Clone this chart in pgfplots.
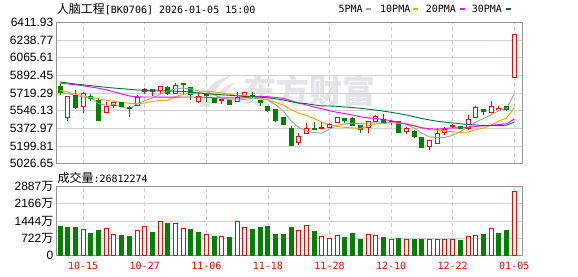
\documentclass[border=0pt]{standalone}
\usepackage{fontspec}
\setmainfont{Liberation Sans}
\newfontfamily\cjk{Noto Sans CJK SC}
\newfontfamily\mono{DejaVu Sans Mono}
\usepackage{graphicx}
\usepackage{pgfplots}
\pgfplotsset{compat=1.18}
\usepackage{pgfplotstable}

\definecolor{upred}{RGB}{255,0,0}
\definecolor{dngreen}{RGB}{0,128,0}
\definecolor{maA}{RGB}{160,160,160}
\definecolor{maB}{RGB}{245,166,0}
\definecolor{maC}{RGB}{255,0,255}
\definecolor{maD}{RGB}{0,112,60}
\definecolor{gridc}{RGB}{208,208,208}
\definecolor{framec}{RGB}{150,150,150}
\definecolor{wmark}{RGB}{228,228,232}

% up candles (close > open): index open high low close
\pgfplotstableread{
i O H L C
1 5478 5688 5446 5682
3 5591 5731 5523 5714
6 5527 5633 5520 5585
7 5601 5630 5569 5624
10 5601 5698 5595 5679
11 5737 5772 5708 5756
12 5732 5757 5694 5751
13 5745 5788 5710 5785
15 5716 5822 5713 5796
18 5636 5716 5620 5684
21 5648 5661 5610 5652
23 5639 5726 5636 5678
24 5682 5731 5673 5721
31 5231 5328 5209 5296
32 5322 5425 5318 5376
34 5370 5431 5365 5380
35 5385 5425 5375 5411
36 5431 5484 5421 5479
40 5383 5444 5331 5437
41 5437 5501 5434 5492
43 5436 5450 5405 5443
45 5341 5391 5318 5373
48 5200 5260 5158 5257
49 5229 5375 5226 5318
50 5334 5391 5312 5366
51 5394 5413 5375 5400
53 5375 5503 5359 5461
54 5477 5589 5474 5579
56 5525 5637 5522 5589
57 5564 5592 5541 5570
59 5875 6302 5872 6290
}\upcandles

% down candles (close <= open)
\pgfplotstableread{
i O H L C
0 5780 5810 5698 5722
2 5698 5753 5562 5578
4 5688 5714 5640 5666
5 5650 5666 5446 5446
8 5624 5633 5585 5591
9 5578 5591 5488 5570
14 5774 5790 5700 5710
16 5808 5815 5710 5800
17 5774 5780 5655 5703
19 5703 5716 5636 5697
20 5661 5668 5617 5623
22 5646 5650 5597 5607
25 5690 5731 5673 5684
26 5650 5652 5595 5624
27 5586 5590 5531 5544
28 5553 5563 5434 5447
29 5479 5489 5408 5415
30 5367 5399 5200 5206
33 5370 5431 5360 5367
37 5469 5472 5427 5447
38 5469 5487 5396 5399
39 5397 5405 5325 5363
42 5455 5510 5428 5431
44 5440 5444 5331 5334
46 5347 5357 5276 5292
47 5279 5285 5177 5184
52 5391 5394 5366 5369
55 5557 5567 5503 5535
58 5583 5586 5541 5560
}\downcandles

% moving averages
\pgfplotstableread{
i a b c d
0 5722 5746 5815 5827
1 5712 5728 5808 5817
2 5697 5708 5800 5807
3 5680 5690 5790 5799
4 5672.4 5677 5778 5791
5 5617.2 5660 5766 5783
6 5597.8 5648 5750 5775
7 5607.0 5638 5730 5768
8 5582.4 5628 5710 5762
9 5563.2 5617.8 5690 5755
10 5609.8 5613.5 5682 5749
11 5644.0 5620.9 5680 5745
12 5669.4 5638.2 5680 5742
13 5707.8 5645.1 5679 5740
14 5735.8 5649.5 5679 5739
15 5759.2 5684.5 5679 5737
16 5768.0 5706.0 5680 5734
17 5758.4 5713.9 5680 5728
18 5738.6 5723.2 5679 5719
19 5736.0 5735.9 5676.9 5713
20 5701.4 5730.3 5671.9 5707
21 5671.8 5719.9 5670.4 5702
22 5652.6 5705.5 5671.9 5697
23 5651.4 5695.0 5670.1 5691
24 5656.2 5696.1 5672.8 5686
25 5668.4 5684.9 5684.7 5683
26 5662.8 5667.3 5686.7 5679
27 5650.2 5651.4 5682.7 5672
28 5604.0 5627.7 5675.5 5662
29 5542.8 5599.5 5667.7 5651.1
30 5447.2 5557.8 5644.1 5633.9
31 5381.6 5522.2 5621.1 5621.0
32 5348.0 5499.1 5602.3 5614.3
33 5332.0 5468.0 5581.5 5602.7
34 5325.0 5433.9 5565.0 5593.2
35 5366.0 5406.6 5545.8 5592.0
36 5402.6 5392.1 5529.7 5588.5
37 5416.8 5382.4 5516.9 5582.6
38 5423.2 5377.6 5502.7 5576.2
39 5419.8 5372.4 5486.0 5569.3
40 5425.0 5395.5 5476.7 5561.2
41 5427.6 5415.1 5468.7 5552.4
42 5424.4 5420.6 5459.9 5541.7
43 5433.2 5428.2 5448.1 5530.4
44 5427.4 5423.6 5428.8 5517.9
45 5414.6 5419.8 5413.2 5503.8
46 5374.6 5401.1 5396.6 5486.8
47 5325.2 5374.8 5378.6 5469.5
48 5288.0 5360.6 5369.1 5455.3
49 5284.8 5356.1 5364.3 5442.7
50 5283.4 5349.0 5372.3 5434.1
51 5305.0 5339.8 5377.5 5425.7
52 5342.0 5333.6 5377.1 5417.8
53 5382.8 5335.4 5381.8 5410.5
54 5435.0 5359.9 5391.8 5405.8
55 5468.8 5376.1 5398.0 5400.8
56 5506.6 5405.8 5403.5 5399.7
57 5546.8 5444.4 5409.6 5400.5
58 5566.6 5474.7 5417.7 5404.3
59 5708.8 5571.9 5464.0 5433.5
}\mas

% volume (10k shares), by change of close
\pgfplotstableread{
i V
3 1093
6 1135
7 883
10 1023
11 1205
13 1429
15 1345
16 1135
19 883
21 799
23 1429
24 1177
31 1023
32 1261
34 799
35 687
36 841
40 883
41 841
43 673
45 673
48 673
49 673
50 673
51 645
53 799
54 827
56 1135
59 2681
}\upvol
\pgfplotstableread{
i V
0 1233
1 1149
2 1191
4 897
5 1023
8 813
9 771
12 939
14 1359
17 1065
18 939
20 771
22 729
25 1065
26 1191
27 1233
28 855
29 855
30 1191
33 981
37 729
38 897
39 645
42 729
44 715
46 645
47 645
52 602
55 883
57 925
58 1023
}\downvol

\pgfplotsset{
  kbase/.style={
    scale only axis, width=466.5pt,
    xmin=-0.53, xmax=60.07,
    axis line style={framec, line width=0.8pt},
    xtick={3,11,19,27,35,43,51,59},
    xmajorgrids, ymajorgrids,
    major x grid style={gridc, line width=0.8pt, dash pattern=on 4pt off 3pt},
    major y grid style={gridc, line width=0.8pt},
    major tick length=0pt,
    yticklabel style={font=\fontsize{12}{12}\selectfont, inner sep=0pt, xshift=-2.5pt},
  },
}

\begin{document}
\begin{tikzpicture}
\useasboundingbox (0pt,0pt) rectangle (578pt,276pt);
% watermark: logo swooshes and name
\fill[wmark] (199pt,169pt) .. controls (203pt,186pt) and (214pt,197pt) .. (233pt,201pt)
  .. controls (220pt,194pt) and (212pt,184pt) .. (210pt,169pt) -- cycle;
\fill[wmark] (213pt,172pt) .. controls (216pt,184pt) and (224pt,191pt) .. (236pt,194pt)
  .. controls (228pt,188pt) and (223pt,181pt) .. (222pt,172pt) -- cycle;
\node[text=wmark, font=\cjk\bfseries\fontsize{33}{33}\selectfont, inner sep=0pt] at (309pt,185pt) {东方财富};

\begin{axis}[kbase,
  at={(56pt,112.3pt)}, anchor=south west, height=141.4pt,
  ymin=5026.65, ymax=6411.93,
  xticklabels={},
  ytick={5026.65,5199.81,5372.97,5546.13,5719.29,5892.45,6065.61,6238.77,6411.93},
  yticklabels={5026.65,5199.81,5372.97,5546.13,5719.29,5892.45,6065.61,6238.77,6411.93},
]
% wicks
\addplot[draw=none, mark=none, forget plot, error bars/.cd, y dir=both, y explicit, error mark=none,
  error bar style={draw=upred, line width=1pt}]
  table[x=i, y expr={(\thisrow{H}+\thisrow{L})/2}, y error expr={(\thisrow{H}-\thisrow{L})/2}] {\upcandles};
\addplot[draw=none, mark=none, forget plot, error bars/.cd, y dir=both, y explicit, error mark=none,
  error bar style={draw=dngreen, line width=1pt}]
  table[x=i, y expr={(\thisrow{H}+\thisrow{L})/2}, y error expr={(\thisrow{H}-\thisrow{L})/2}] {\downcandles};
% up bodies (hollow)
\addplot[draw=none, mark=none, forget plot, error bars/.cd, y dir=both, y explicit, error mark=none,
  error bar style={draw=upred, line width=5pt}]
  table[x=i, y expr={(\thisrow{O}+\thisrow{C})/2}, y error expr={abs(\thisrow{C}-\thisrow{O})/2}] {\upcandles};
\addplot[draw=none, mark=none, forget plot, error bars/.cd, y dir=both, y explicit, error mark=none,
  error bar style={draw=white, line width=3pt}]
  table[x=i, y expr={(\thisrow{O}+\thisrow{C})/2}, y error expr={abs(\thisrow{C}-\thisrow{O})/2}] {\upcandles};
\addplot[only marks, mark=-, mark size=2.5pt, mark options={draw=upred, line width=1pt}, forget plot]
  table[x=i, y=O] {\upcandles};
\addplot[only marks, mark=-, mark size=2.5pt, mark options={draw=upred, line width=1pt}, forget plot]
  table[x=i, y=C] {\upcandles};
% down bodies (filled)
\addplot[draw=none, mark=none, forget plot, error bars/.cd, y dir=both, y explicit, error mark=none,
  error bar style={draw=dngreen, line width=5pt}]
  table[x=i, y expr={(\thisrow{O}+\thisrow{C})/2}, y error expr={abs(\thisrow{C}-\thisrow{O})/2}] {\downcandles};
\addplot[only marks, mark=-, mark size=2.5pt, mark options={draw=dngreen, line width=1pt}, forget plot]
  table[x=i, y=O] {\downcandles};
\addplot[only marks, mark=-, mark size=2.5pt, mark options={draw=dngreen, line width=1pt}, forget plot]
  table[x=i, y=C] {\downcandles};
% moving averages
\addplot[maA, line width=0.9pt, mark=none] table[x=i, y=a] {\mas};
\addplot[maB, line width=0.9pt, mark=none] table[x=i, y=b] {\mas};
\addplot[maC, line width=0.9pt, mark=none] table[x=i, y=c] {\mas};
\addplot[maD, line width=0.9pt, mark=none] table[x=i, y=d] {\mas};
\end{axis}

\begin{axis}[kbase,
  at={(56pt,20.7pt)}, anchor=south west, height=68.6pt,
  ymin=0, ymax=2887,
  xticklabels={10-15,10-27,11-06,11-18,11-28,12-10,12-22,01-05},
  xticklabel style={text=upred, font=\mono\fontsize{10}{10}\selectfont, inner sep=0pt, yshift=-6.5pt},
  ytick={0,722,1444,2166,2887},
  yticklabels={0,722{\cjk 万},1444{\cjk 万},2166{\cjk 万},2887{\cjk 万}},
]
\addplot[ybar, bar width=4pt, bar shift=0pt, draw=upred, fill=white, line width=1pt] table[x=i, y=V] {\upvol};
\addplot[ybar, bar width=4pt, bar shift=0pt, draw=dngreen, fill=dngreen, line width=1pt] table[x=i, y=V] {\downvol};
\end{axis}

% title and legend
\node[anchor=west, inner sep=0pt, font=\fontsize{12}{12}\selectfont] at (56.7pt,267pt)
  {{\cjk 人脑工程}{\mono\fontsize{10}{10}\selectfont[BK0706] 2026-01-05 15:00}};
\node[anchor=west, inner sep=0pt, font=\mono\fontsize{10}{10}\selectfont] at (338.3pt,267pt) {5PMA};
\fill[maA] (366pt,266.3pt) rectangle (371pt,268.3pt);
\node[anchor=west, inner sep=0pt, font=\mono\fontsize{10}{10}\selectfont] at (380pt,267pt) {10PMA};
\fill[maB] (413pt,266.3pt) rectangle (418pt,268.3pt);
\node[anchor=west, inner sep=0pt, font=\mono\fontsize{10}{10}\selectfont] at (425.7pt,267pt) {20PMA};
\fill[maC] (460pt,266.3pt) rectangle (465pt,268.3pt);
\node[anchor=west, inner sep=0pt, font=\mono\fontsize{10}{10}\selectfont] at (471.7pt,267pt) {30PMA};
\fill[maD] (505.7pt,266.3pt) rectangle (510.7pt,268.3pt);
\node[anchor=west, inner sep=0pt, font=\fontsize{12}{12}\selectfont] at (57.3pt,97.7pt)
  {{\cjk 成交量}{\mono\fontsize{10}{10}\selectfont:26812274}};
\end{tikzpicture}
\end{document}
